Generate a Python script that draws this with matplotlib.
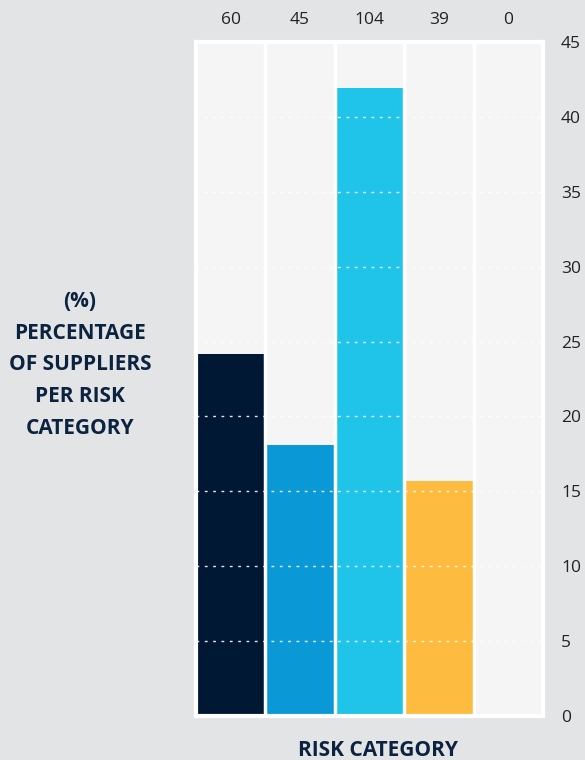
import matplotlib
matplotlib.use("Agg")
import matplotlib.pyplot as plt
from matplotlib.transforms import blended_transform_factory

categories = ["Cat 1", "Cat 2", "Cat 3", "Cat 4", "Cat 5"]
counts = [60, 45, 104, 39, 0]
percentages = [24.2, 18.1, 41.9, 15.7, 0.0]
colors = ["#011835", "#0a99d6", "#20c4e9", "#fdbb3f", "#f5f5f5"]
yticks = [0, 5, 10, 15, 20, 25, 30, 35, 40, 45]

BG = "#e3e4e6"
PANEL = "#f5f5f5"
NAVY = "#0c2340"
TXT = "#222222"

plt.rcParams["font.family"] = ["Open Sans", "DejaVu Sans"]

fig = plt.figure(figsize=(5.85, 7.6), dpi=100, facecolor=BG)
ax = fig.add_axes([196/585, 44/760, (543-196)/585, (716-42)/760])
ax.set_facecolor(PANEL)

x = list(range(len(categories)))
ax.bar(x, percentages, width=1.0, color=colors, linewidth=0, zorder=2)

for t in yticks[1:-1]:
    ax.axhline(t, color="white", linewidth=1.0, linestyle=(0, (2, 4)), alpha=0.9, zorder=3)
for b in [i + 0.5 for i in x[:-1]]:
    ax.axvline(b, color="white", linewidth=2.5, zorder=4)

ax.set_xlim(-0.5, len(x) - 0.5)
ax.set_ylim(0, 45)
ax.set_xticks([])
ax.yaxis.tick_right()
ax.set_yticks(yticks)
ax.set_yticklabels([str(t) for t in yticks], fontsize=12.5, color=TXT)
ax.tick_params(axis="y", length=0, pad=13)
for s in ax.spines.values():
    s.set_color("white")
    s.set_linewidth(3)
    s.set_zorder(5)

trans = blended_transform_factory(ax.transData, ax.transAxes)
for xi, c in zip(x, counts):
    ax.text(xi, 1.0 + 22/674, str(c), transform=trans, ha="center", va="center",
            fontsize=12.5, color=TXT)

fig.text(80/585, 1 - 365/760, "(%)\nPERCENTAGE\nOF SUPPLIERS\nPER RISK\nCATEGORY",
         ha="center", va="center", fontsize=15, fontweight="bold", color=NAVY,
         linespacing=1.68)
fig.text(378/585, 1 - 750/760, "RISK CATEGORY", ha="center", va="center",
         fontsize=15, fontweight="bold", color=NAVY)

fig.savefig("out.png", dpi=100, facecolor=BG)
